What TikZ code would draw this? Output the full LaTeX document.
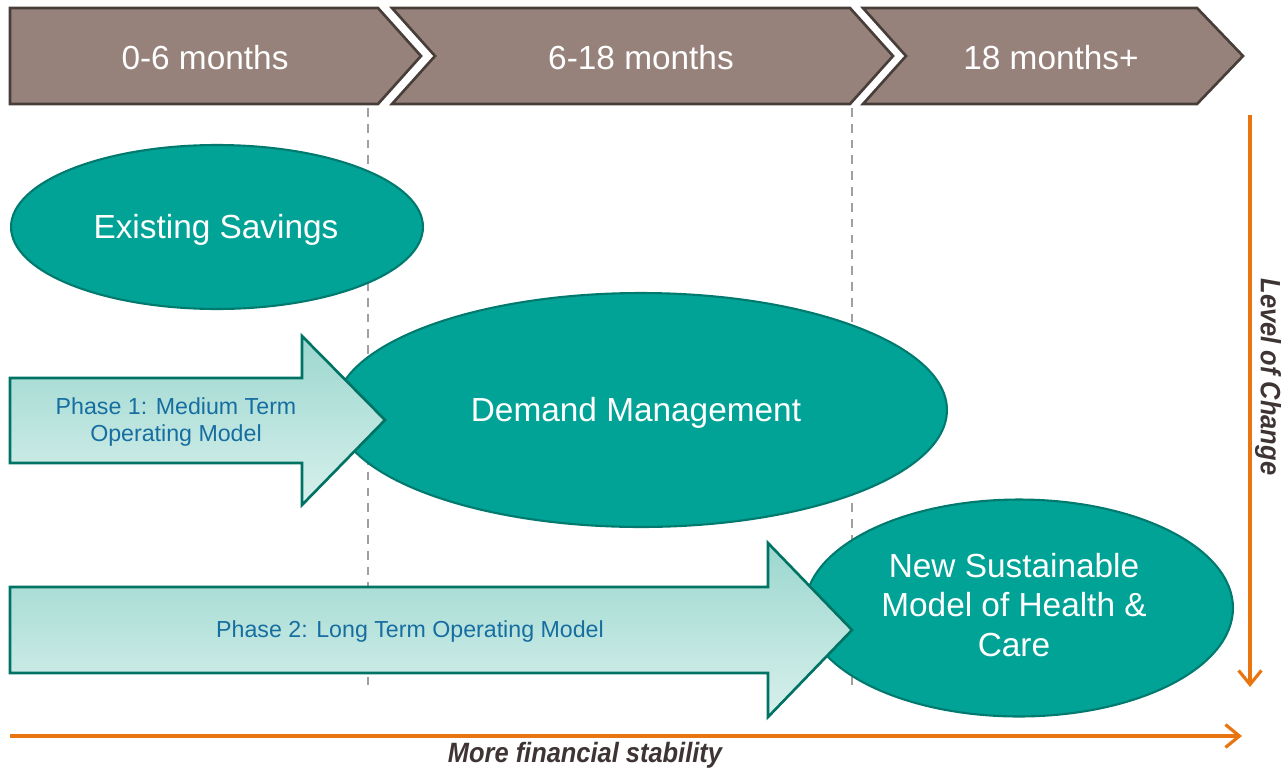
\documentclass[tikz,border=0pt]{standalone}
\usepackage{fontspec}
\setmainfont{Liberation Sans}
\newfontfamily\axisfont[FakeStretch=0.91]{Liberation Sans}
\usetikzlibrary{shapes.geometric,arrows.meta}

\definecolor{chevfill}{RGB}{150,130,122}
\definecolor{chevline}{RGB}{72,62,57}
\definecolor{tealfill}{RGB}{0,163,150}
\definecolor{tealline}{RGB}{0,122,110}
\definecolor{phasetop}{RGB}{155,215,207}
\definecolor{phasebot}{RGB}{216,240,236}
\definecolor{phaseline}{RGB}{0,115,100}
\definecolor{phasetext}{RGB}{22,110,160}
\definecolor{axisorange}{RGB}{232,117,15}
\definecolor{axistext}{RGB}{62,52,52}
\definecolor{guidegrey}{RGB}{160,160,160}

\tikzset{
  chevron/.style = {fill=chevfill, draw=chevline, line width=1.5pt, line join=miter},
  chevtext/.style = {text=white, font=\fontsize{19}{22}\selectfont},
  stage/.style = {ellipse, fill=tealfill, draw=tealline, line width=1.2pt, inner sep=0pt},
  stagetext/.style = {text=white, align=center, font=\fontsize{19}{22.5}\selectfont},
  phase/.style = {top color=phasetop, bottom color=phasebot, draw=phaseline, line width=1.5pt},
  phasetext/.style = {text=phasetext, align=center, font=\fontsize{13.2}{15.4}\selectfont},
  guide/.style = {guidegrey, line width=0.8pt, dash pattern=on 5pt off 4pt},
  axis/.style = {axisorange, line width=1.8pt, -{Straight Barb[length=8pt,width=13pt]}},
  axistext/.style = {text=axistext, font=\axisfont\bfseries\itshape\fontsize{15.9}{18}\selectfont}
}

\begin{document}
\begin{tikzpicture}[x=0.02cm, y=-0.02cm]

  \useasboundingbox (0,0) rectangle (1284,771);

  \draw[chevron] (10,8) -- (378,8) -- (421,56) -- (378,104) -- (10,104) -- cycle;
  \draw[chevron] (392,8) -- (850,8) -- (893,56) -- (850,104) -- (392,104) -- (435,56) -- cycle;
  \draw[chevron] (863,8) -- (1197,8) -- (1243,56) -- (1197,104) -- (863,104) -- (906,56) -- cycle;

  \node[chevtext] (early) at (205,58) {0-6 months};
  \node[chevtext] (middle) at (641,58) {6-18 months};
  \node[chevtext] (late) at (1051,58) {18 months+};

  \draw[guide] (368,108) -- (368,685);
  \draw[guide] (852,108) -- (852,685);

  \node[stage, minimum width=8.24cm, minimum height=3.28cm] (savings) at (217,227) {};
  \node[stage, minimum width=12.24cm, minimum height=4.68cm] (demand) at (641,410) {};
  \node[stage, minimum width=8.56cm, minimum height=4.34cm] (newmodel) at (1019,608) {};

  \node[stagetext] (savingstext) at (216,230) {Existing Savings};
  \node[stagetext] (demandtext) at (636,413) {Demand Management};
  \node[stagetext] (newmodeltext) at (1014,605) {New Sustainable\\Model of Health \&\\Care};

  \draw[phase] (10,378) -- (302,378) -- (302,336) -- (385,420) -- (302,505) -- (302,463) -- (10,463) -- cycle;
  \draw[phase] (10,587) -- (768,587) -- (768,543) -- (852,630) -- (768,717) -- (768,673) -- (10,673) -- cycle;

  \node[phasetext] (phaseone) at (176,422) {Phase 1: Medium Term\\Operating Model};
  \node[phasetext] (phasetwo) at (410,631) {Phase 2: Long Term Operating Model};

  \coordinate (xstart) at (10,736);
  \coordinate (xend) at (1242,736);
  \coordinate (ystart) at (1250,115);
  \coordinate (yend) at (1250,687);

  \draw[axis] (xstart) -- (xend);
  \draw[axis] (ystart) -- (yend);

  \node[axistext] (stability) at (585,755) {More financial stability};
  \node[axistext, rotate=-90] (change) at (1268,377) {Level of Change};

\end{tikzpicture}
\end{document}
